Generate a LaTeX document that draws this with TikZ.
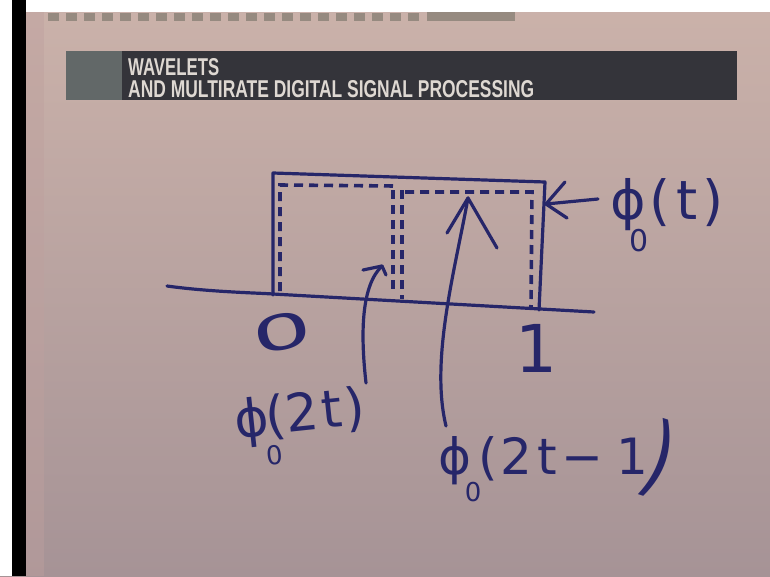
\documentclass[tikz,border=0pt]{standalone}
\usepackage{fontspec}
\setmainfont{DejaVu Sans}
\newfontfamily\bannerfont{Liberation Sans}
\usetikzlibrary{calc}
\definecolor{ink}{RGB}{38,38,105}
\definecolor{papertop}{RGB}{203,178,170}
\definecolor{paperbot}{RGB}{166,147,150}
\definecolor{bannerdark}{RGB}{52,52,58}
\definecolor{bannerlight}{RGB}{98,104,104}
\definecolor{bannertext}{RGB}{222,216,210}
\definecolor{edgegray}{RGB}{150,138,128}
\definecolor{edgepink}{RGB}{190,160,158}
\tikzset{
  pen/.style={draw=ink, line width=3.2pt, line cap=round, line join=round},
  dashpen/.style={draw=ink, line width=3.6pt, dash pattern=on 9pt off 6pt},
  hand/.style={text=ink, inner sep=0pt, outer sep=0pt},
  bannertxt/.style={text=bannertext, inner sep=0pt, anchor=base west, font=\bannerfont\fontsize{25}{25}\selectfont\bfseries}
}
\begin{document}
\begin{tikzpicture}[x=1pt,y=-1pt]
\useasboundingbox (0,0) rectangle (770,576);
% paper
\shade[top color=papertop, bottom color=paperbot] (0,0) rectangle (770,576);
\fill[white] (0,0) rectangle (770,12);
\fill[white] (0,0) rectangle (12,576);
\fill[black] (12,0) rectangle (26,576);
\fill[edgepink, opacity=0.45] (26,12) rectangle (44,576);
% top dashed edge
\foreach \x in {48,66,84,...,410} {\fill[edgegray] (\x,13) rectangle ++(11,8);}
\fill[edgegray] (427,12) rectangle (515,21);
% banner
\fill[bannerdark] (66,51) rectangle (737,100);
\fill[bannerlight] (66,51) rectangle (122,100);
\node[bannertxt] (t1) at (128,75) {\resizebox{91pt}{17pt}{WAVELETS}};
\node[bannertxt] (t2) at (128,97) {\resizebox{406pt}{17pt}{AND MULTIRATE DIGITAL SIGNAL PROCESSING}};
% phi(t) box
\coordinate (tl) at (273,173);
\coordinate (tr) at (545,182);
\coordinate (bl) at (273,295);
\coordinate (br) at (539,310);
\draw[pen] (bl) -- (tl) -- (tr) -- (br);
% axis
\coordinate (axL) at (167,286);
\coordinate (axR) at (594,312);
\draw[pen] (axL) .. controls (210,292) and (260,293) .. (273,294) -- (axR);
% dashed halves
\draw[dashpen] (280,291) -- (280,185) -- (396,186);
\draw[dashpen] (393,190) -- (393,292);
\draw[dashpen] (402,190) -- (402,299);
\draw[dashpen] (405,192) -- (532,192) -- (531,307);
% arrow to phi(t)
\coordinate (a1s) at (598,199);
\coordinate (a1t) at (546,204);
\draw[pen] (a1s) -- (a1t);
\draw[pen] (565,182) -- (a1t) -- (567,218);
% labels 0 and 1
\node[hand, font=\fontsize{40}{40}\selectfont, rotate=12] (zero) at (282,332) {\scalebox{2.35}[1.2]{0}};
\node[hand, font=\fontsize{66}{66}\selectfont] (one) at (536,348) {1};
% phi(t) label
\node[hand, font=\fontsize{54}{54}\selectfont, anchor=base west] (lt) at (610,219)
  {ϕ\rlap{\kern-0.3em\raisebox{-0.6em}{\fontsize{30}{30}\selectfont 0}}\kern0.08em(\kern0.1em t\kern0.1em)};
% phi(2t) label and arrow
\node[hand, font=\fontsize{52}{52}\selectfont, anchor=base west, rotate=6] (l2) at (236,438)
  {ϕ\rlap{\kern-0.12em\raisebox{-0.58em}{\fontsize{26}{26}\selectfont 0}}\kern-0.05em(2\kern0.05em t\kern0.05em)};
\coordinate (a2s) at (366,383);
\coordinate (a2t) at (382,266);
\draw[pen] (a2s) .. controls (360,330) and (362,285) .. (a2t);
\draw[pen] (363,270) -- (a2t) -- (386,275);
% phi(2t-1) label and arrow
\node[hand, font=\fontsize{50}{50}\selectfont, anchor=base west] (l3) at (438,474)
  {ϕ\rlap{\kern-0.12em\raisebox{-0.55em}{\fontsize{26}{26}\selectfont 0}}\kern0.15em(\kern0.05em 2\kern0.1em t\kern0.1em−\kern0.25em1\kern-0.3em\raisebox{-13pt}{\rotatebox[origin=c]{-18}{\scalebox{1.45}[1.8]{)}}}};
\coordinate (a3s) at (446,426);
\coordinate (a3t) at (468,198);
\draw[pen] (a3s) .. controls (430,360) and (455,270) .. (a3t);
\draw[pen] (447,233) -- (a3t) -- (497,248);
\end{tikzpicture}
\end{document}
